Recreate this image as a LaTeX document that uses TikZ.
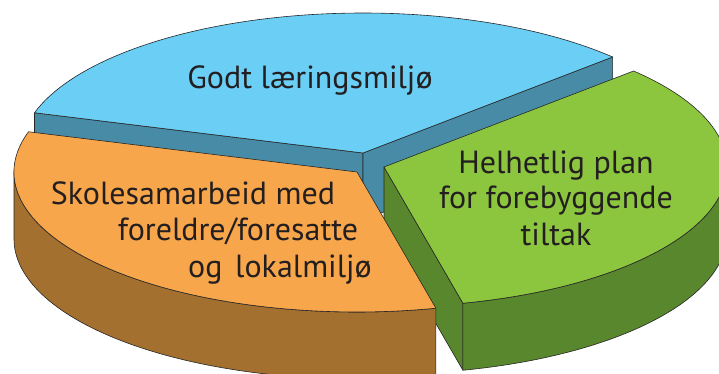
\documentclass[tikz,border=0pt]{standalone}
\usepackage{fontspec}
\setmainfont{PT Sans}
\usetikzlibrary{calc}
\definecolor{bluetop}{RGB}{106,206,245}
\definecolor{blueside}{RGB}{72,139,166}
\definecolor{orangetop}{RGB}{248,166,75}
\definecolor{orangeside}{RGB}{163,112,48}
\definecolor{greentop}{RGB}{140,198,63}
\definecolor{greenside}{RGB}{88,135,45}
\definecolor{txt}{RGB}{35,31,32}
\begin{document}
\begin{tikzpicture}[x=1pt,y=1pt,
  face/.style={draw=black!85,line width=0.6pt,line join=round},
  lbl/.style={text=txt,font=\fontsize{32}{38}\selectfont,inner sep=0pt,anchor=base}]
\useasboundingbox (0,0) rectangle (719,373);
\clip (0,0) rectangle (719,373);
\def\th{67}
% centres
\coordinate (cb) at (363,220);
\coordinate (co) at (357,201);
\coordinate (cg) at (384,206);
% ---- blue slice
\coordinate (bL) at ($(cb)+(163.3:343 and 140)$);
\coordinate (bR) at ($(cb)+(43.3:343 and 140)$);
\filldraw[face,fill=blueside] (cb) -- (bL) -- ++(0,-\th) -- ($(cb)+(0,-\th)$) -- cycle;
\filldraw[face,fill=blueside] (cb) -- (bR) -- ++(0,-\th) -- ($(cb)+(0,-\th)$) -- cycle;
\filldraw[face,fill=bluetop] (cb) -- (bR) arc[start angle=43.3,end angle=163.3,x radius=343,y radius=140] -- cycle;
% ---- green slice
\coordinate (gF) at ($(cg)+(283.3:343 and 140)$);
\filldraw[face,fill=greenside] (cg) -- (gF) -- ++(0,-\th) -- ($(cg)+(0,-\th)$) -- cycle;
\filldraw[face,fill=greenside] (gF) arc[start angle=283.3,end angle=360,x radius=343,y radius=140]
  -- ++(0,-\th) arc[start angle=360,end angle=283.3,x radius=343,y radius=140] -- cycle;
\filldraw[face,fill=greentop] (cg) -- (gF) arc[start angle=283.3,end angle=403.3,x radius=343,y radius=140] -- cycle;
% ---- orange slice
\coordinate (oL) at ($(co)+(163.3:343 and 140)$);
\coordinate (oW) at ($(co)+(180:343 and 140)$);
\filldraw[face,fill=orangeside] (oW) arc[start angle=180,end angle=283.3,x radius=343,y radius=140]
  -- ++(0,-\th) arc[start angle=283.3,end angle=180,x radius=343,y radius=140] -- cycle;
\filldraw[face,fill=orangetop] (co) -- (oL) arc[start angle=163.3,end angle=283.3,x radius=343,y radius=140] -- cycle;
% ---- labels
\node[lbl] (t1) at (310,284) {Godt læringsmiljø};
\node[lbl] (t2) at (193,169) {Skolesamarbeid med};
\node[lbl] (t3) at (238,133) {foreldre/foresatte};
\node[lbl] (t4) at (280,96) {og\hspace{0.4em}lokalmiljø};
\node[lbl] (t5) at (556,200) {Helhetlig plan};
\node[lbl] (t6) at (556,165) {for forebyggende};
\node[lbl] (t7) at (556,128) {tiltak};
\end{tikzpicture}
\end{document}
